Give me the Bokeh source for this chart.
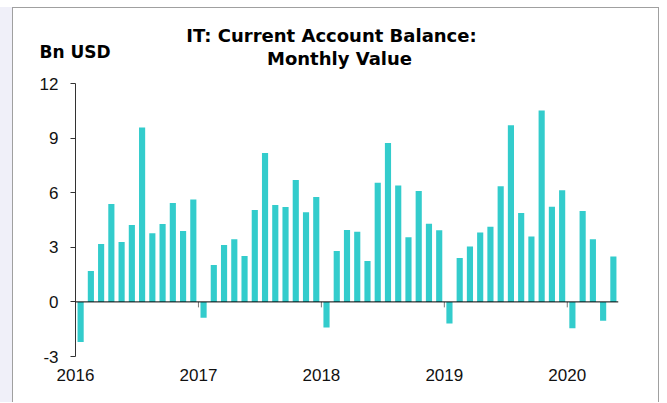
from bokeh.plotting import figure
from bokeh.models import Range1d, Span, Label, FixedTicker
from bokeh.embed import file_html
from bokeh.resources import INLINE

# ---- data -------------------------------------------------------------
years = [2016, 2017, 2018, 2019, 2020]
values_2016 = [-2.2, 1.70, 3.18, 5.38, 3.29, 4.22, 9.58, 3.77, 4.28, 5.43, 3.90, 5.62]
values_2017 = [-0.87, 2.03, 3.13, 3.44, 2.52, 5.05, 8.18, 5.32, 5.21, 6.70, 4.92, 5.76]
values_2018 = [-1.41, 2.80, 3.95, 3.86, 2.25, 6.55, 8.73, 6.40, 3.55, 6.09, 4.30, 3.93]
values_2019 = [-1.19, 2.41, 3.04, 3.82, 4.13, 6.35, 9.71, 4.88, 3.59, 10.52, 5.23, 6.13]
values_2020 = [-1.45, 4.99, 3.44, -1.04, 2.49]
y_ticks = [-3, 0, 3, 6, 9, 12]
y_tick_labels = ["-3", "0", "3", "6", "9", "12"]
title_lines = ["IT: Current Account Balance:", "Monthly Value"]
unit_label = "Bn USD"

values = values_2016 + values_2017 + values_2018 + values_2019 + values_2020
n = len(values)
month_pos = [i + 0.5 for i in range(n)]          # month index, 0 = Jan 2016
year_pos = [12 * (y - years[0]) for y in years]   # year start positions

BAR = "#33cccc"

p = figure(width=647, height=395, output_backend="svg", toolbar_location=None,
           x_range=Range1d(0, n), y_range=Range1d(-3, 12),
           min_border_left=62, min_border_right=42, min_border_top=75,
           min_border_bottom=47)
p.styles = {"border": "1px solid #a0a0a0", "border-bottom": "none",
            "margin-left": "12px", "margin-top": "7px",
            "box-shadow": "-12px 0px 0px 0px #f0f0f9"}
p.outline_line_color = None
p.xgrid.visible = False
p.ygrid.visible = False
p.background_fill_color = "white"
p.border_fill_color = "white"

p.vbar(x=month_pos, top=values, bottom=0, width=0.6, color=BAR, line_color=None)

# zero line
p.add_layout(Span(location=0, dimension="width", line_color="#000000", line_width=1))
# small year ticks under the zero line
p.segment(x0=year_pos[1:], x1=year_pos[1:], y0=[0] * (len(years) - 1),
          y1=[-0.3] * (len(years) - 1), line_color="#777777", line_width=1)

# y axis
ya = p.yaxis[0]
ya.ticker = FixedTicker(ticks=y_ticks)
ya.major_label_overrides = {t: s for t, s in zip(y_ticks, y_tick_labels)}
ya.axis_line_color = "#333333"
ya.major_tick_line_color = "#333333"
ya.major_tick_out = 5
ya.major_tick_in = 0
ya.minor_tick_line_color = None
ya.major_label_standoff = 12
ya.major_label_text_font = "Liberation Sans"
ya.major_label_text_font_size = "17px"
ya.major_label_text_color = "#111111"

# x axis (labels only)
xa = p.xaxis[0]
xa.ticker = FixedTicker(ticks=year_pos)
xa.major_label_overrides = {yp: str(y) for yp, y in zip(year_pos, years)}
xa.axis_line_color = None
xa.major_tick_line_color = None
xa.minor_tick_line_color = None
xa.major_tick_out = 0
xa.major_label_standoff = 12
xa.major_label_text_font = "Liberation Sans"
xa.major_label_text_font_size = "17px"
xa.major_label_text_color = "#111111"

# titles and unit label, in the top panel, canvas coordinates
common = dict(x_units="canvas", y_units="canvas", text_baseline="alphabetic",
              text_font="DejaVu Sans", text_font_style="bold", text_color="#000000")
p.add_layout(Label(x=317, y=26, text=title_lines[0], text_align="center",
                   text_font_size="18px", **common), "above")
p.add_layout(Label(x=325, y=48.5, text=title_lines[1], text_align="center",
                   text_font_size="18px", **common), "above")
p.add_layout(Label(x=25, y=42, text=unit_label, text_align="left",
                   text_font_size="17px", **common), "above")

open("out.html", "w").write(file_html(p, INLINE))
